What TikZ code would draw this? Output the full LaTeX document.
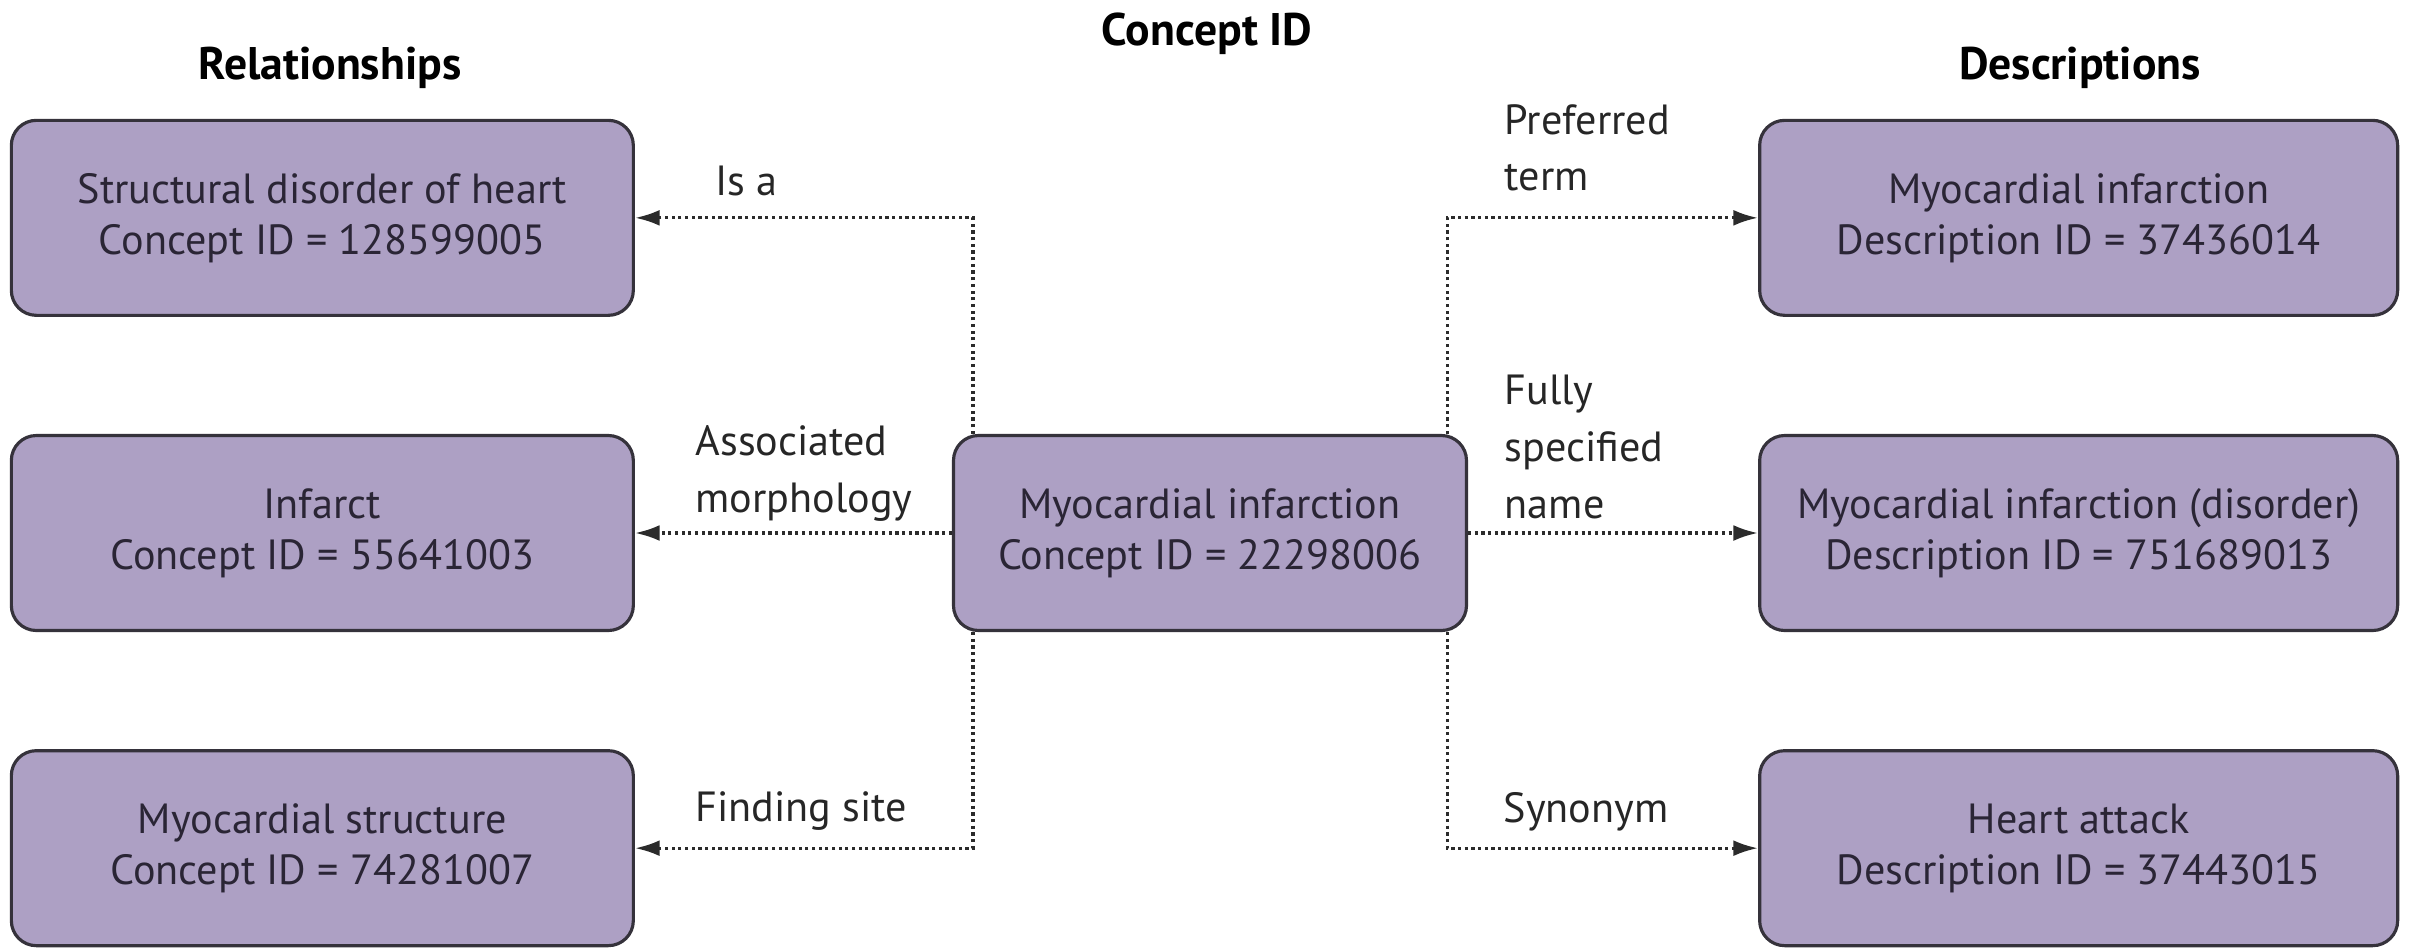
\documentclass[tikz,border=0pt]{standalone}
\usepackage{fontspec}
\setmainfont{PT Sans}
\usetikzlibrary{positioning, arrows.meta, calc}
\definecolor{colBox}{HTML}{ADA0C4}
\definecolor{strokeBox}{HTML}{35323B}
\definecolor{colText}{HTML}{2A2535}
\definecolor{colLink}{HTML}{2B2B2B}
\begin{document}
\begin{tikzpicture}[
				node distance=1.17cm and 3.17cm,
				font=\fontsize{12}{14.5}\selectfont,
				% Node Styles
				base/.style={align=center, text=colText, inner sep=2pt},
				box/.style={base, draw=strokeBox, fill=colBox, line width=0.9pt, rounded corners=0.25cm, minimum height=1.95cm},
				relbox/.style={box, minimum width=6.22cm},
				descbox/.style={box, minimum width=6.38cm},
				conceptbox/.style={box, minimum width=5.13cm},
				heading/.style={font=\fontsize{13}{15}\selectfont\bfseries, text=black},
				rellabel/.style={align=left, anchor=west, inner sep=0pt, text=black!85, font=\fontsize{12}{16.2}\selectfont},
				link/.style={-{Latex[length=7pt,width=4.5pt]}, densely dotted, line width=0.9pt, colLink}
				]
				\useasboundingbox (0,0) rectangle (24.09,-9.49);
				
				%% ================= CENTRE =================
				\node[conceptbox] (concept) at (12.10,-5.33) {Myocardial infarction\\Concept ID = 22298006};
				\coordinate (lspine) at ($(concept.west)+(0.21,0)$);
				\coordinate (rspine) at ($(concept.east)+(-0.21,0)$);
				
				%% ================= RELATIONSHIPS =================
				\node[relbox, left=of concept] (infarct) {Infarct\\Concept ID = 55641003};
				\node[relbox, above=of infarct] (heart) {Structural disorder of heart\\Concept ID = 128599005};
				\node[relbox, below=of infarct] (myostruct) {Myocardial structure\\Concept ID = 74281007};
				
				%% ================= DESCRIPTIONS =================
				\node[descbox, right=2.90cm of concept] (fsn) {Myocardial infarction (disorder)\\Description ID = 751689013};
				\node[descbox, above=of fsn] (preferred) {Myocardial infarction\\Description ID = 37436014};
				\node[descbox, below=of fsn] (synonym) {Heart attack\\Description ID = 37443015};
				
				% Headings
				\node[heading] (relhead) at (3.30,-0.68) {Relationships};
				\node[heading] (idhead) at (12.07,-0.34) {Concept ID};
				\node[heading] (deschead) at (20.80,-0.68) {Descriptions};
				
				% Edges Left
				\draw[link] (lspine |- concept.north) |- (heart.east);
				\draw[link] (concept.west) -- (infarct.east);
				\draw[link] (lspine |- concept.south) |- (myostruct.east);
				
				% Edges Right
				\draw[link] (rspine |- concept.north) |- (preferred.west);
				\draw[link] (concept.east) -- (fsn.west);
				\draw[link] (rspine |- concept.south) |- (synonym.west);
				
				% Edge Labels
				\node[rellabel] (isa) at ($(heart.east)+(0.80,0.37)$) {Is a};
				\node[rellabel] (morph) at ($(infarct.east)+(0.60,0.60)$) {Associated\\morphology};
				\node[rellabel] (site) at ($(myostruct.east)+(0.60,0.37)$) {Finding site};
				\node[rellabel] (prefterm) at ($(preferred.west)+(-2.54,0.70)$) {Preferred\\term};
				\node[rellabel] (fullname) at ($(fsn.west)+(-2.54,0.86)$) {Fully\\specified\\name};
				\node[rellabel] (syn) at ($(synonym.west)+(-2.55,0.36)$) {Synonym};
				
			\end{tikzpicture}
\end{document}
